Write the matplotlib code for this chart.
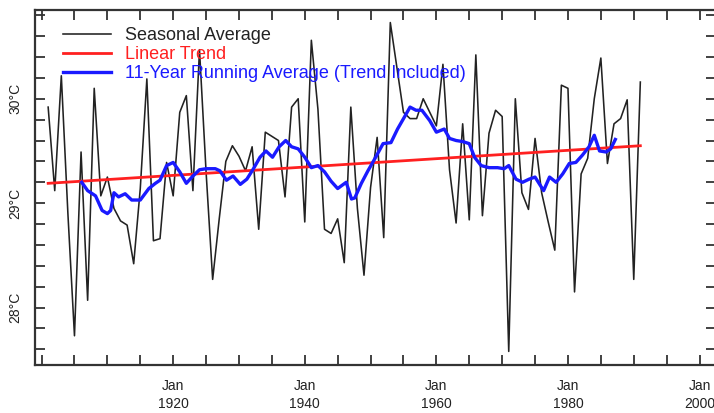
import matplotlib
matplotlib.use("Agg")
import matplotlib.pyplot as plt
from matplotlib.ticker import MultipleLocator, FixedLocator

plt.rcParams['font.family'] = ['Liberation Sans', 'DejaVu Sans']

# seasonal average, one value per year
years = list(range(1901, 1992))
seasonal = [29.92, 29.12, 30.22, 28.90, 27.73, 29.49, 28.07, 30.10, 29.07, 29.25,
            28.95, 28.83, 28.79, 28.42, 29.14, 30.19, 28.64, 28.66, 29.39, 29.07,
            29.87, 30.03, 29.12, 30.47, 29.30, 28.27, 28.85, 29.40, 29.55, 29.45,
            29.31, 29.54, 28.75, 29.68, 29.64, 29.60, 29.06, 29.92, 30.00, 28.82,
            30.56, 29.90, 28.75, 28.71, 28.85, 28.43, 29.92, 28.95, 28.31, 29.15,
            29.63, 28.67, 30.73, 30.30, 29.87, 29.81, 29.81, 30.00, 29.87, 29.74,
            30.33, 29.32, 28.81, 29.76, 28.84, 30.42, 28.88, 29.67, 29.89, 29.83,
            27.58, 30.00, 29.10, 28.94, 29.62, 29.10, 28.82, 28.55, 30.13, 30.10,
            28.15, 29.28, 29.43, 30.00, 30.39, 29.38, 29.76, 29.81, 29.99, 28.27,
            30.16]

# linear trend end points
trend_years = [1901, 1991]
trend_vals = [29.19, 29.55]

# 11-year running average (trend included)
run_years = [1906.1, 1907.0, 1908.2, 1909.2, 1910.0, 1910.5, 1911.0, 1911.7, 1912.7, 1913.7,
             1915.0, 1916.3, 1917.3, 1918.0, 1919.0, 1920.0, 1921.0, 1922.0, 1923.0, 1924.0,
             1925.0, 1926.4, 1927.1, 1928.1, 1929.1, 1930.2, 1931.2, 1932.2, 1933.2, 1934.1,
             1935.1, 1936.1, 1937.1, 1938.0, 1939.0, 1940.0, 1941.0, 1942.0, 1943.0, 1944.0,
             1945.0, 1946.3, 1947.1, 1947.6, 1948.6, 1949.6, 1950.6, 1951.9, 1953.1, 1954.1,
             1955.1, 1956.0, 1956.9, 1957.8, 1959.0, 1960.0, 1961.2, 1962.0, 1963.0, 1964.0,
             1965.0, 1965.8, 1966.8, 1968.0, 1969.3, 1970.3, 1971.0, 1972.1, 1973.1, 1974.1,
             1975.0, 1976.3, 1977.2, 1978.2, 1979.2, 1980.2, 1981.2, 1982.2, 1983.2, 1984.0,
             1984.8, 1985.8, 1986.5, 1987.2]
run_vals = [29.20, 29.12, 29.07, 28.93, 28.90, 28.93, 29.10, 29.06, 29.09, 29.03,
            29.03, 29.14, 29.19, 29.22, 29.36, 29.39, 29.30, 29.19, 29.26, 29.32,
            29.33, 29.33, 29.31, 29.22, 29.26, 29.18, 29.23, 29.33, 29.44, 29.50,
            29.44, 29.54, 29.60, 29.54, 29.52, 29.44, 29.34, 29.36, 29.30, 29.21,
            29.14, 29.20, 29.04, 29.05, 29.19, 29.31, 29.42, 29.57, 29.58, 29.71,
            29.82, 29.92, 29.89, 29.89, 29.79, 29.68, 29.71, 29.62, 29.60, 29.59,
            29.57, 29.44, 29.36, 29.34, 29.34, 29.33, 29.36, 29.23, 29.20, 29.23,
            29.25, 29.12, 29.25, 29.20, 29.28, 29.38, 29.39, 29.46, 29.54, 29.65,
            29.50, 29.49, 29.52, 29.61]

xticks = [1920, 1940, 1960, 1980, 2000]
xlabels = ["Jan\n1920", "Jan\n1940", "Jan\n1960", "Jan\n1980", "Jan\n2000"]
yticks = [28, 29, 30]
ylabels = ["28°C", "29°C", "30°C"]

fig = plt.figure(figsize=(7.14, 4.13), dpi=100)
ax = fig.add_axes([35/714, 1 - 365/413, 681/714, 355/413])

ax.plot(years, seasonal, color='#222222', lw=1.15, label='Seasonal Average')
ax.plot(trend_years, trend_vals, color='#ff2020', lw=2.0, label='Linear Trend')
ax.plot(run_years, run_vals, color='#1a1aff', lw=2.4, label='11-Year Running Average (Trend Included)')

ax.set_xlim(1899.0, 2002.5)
ax.set_ylim(27.45, 30.85)

ax.xaxis.set_major_locator(FixedLocator(xticks))
ax.set_xticklabels(xlabels)
ax.xaxis.set_minor_locator(MultipleLocator(5))
ax.yaxis.set_major_locator(FixedLocator(yticks))
ax.set_yticklabels(ylabels, rotation=90, va='center')
ax.yaxis.set_minor_locator(MultipleLocator(0.2))

for which in ('major', 'minor'):
    ax.tick_params(which=which, direction='in', length=7, width=1.3, color='#333333',
                   top=True, right=True)
ax.tick_params(axis='x', which='major', pad=10, labelsize=10, labelcolor='#222222')
ax.tick_params(axis='y', which='major', pad=9, labelsize=10, labelcolor='#222222')
for lab in ax.get_xticklabels():
    lab.set_linespacing(1.4)

for sp in ax.spines.values():
    sp.set_linewidth(1.6)
    sp.set_color('#333333')

leg = ax.legend(loc='upper left', bbox_to_anchor=(0.03, 0.972), frameon=False,
                fontsize=13, handlelength=2.7, handletextpad=0.75, labelspacing=0.12,
                borderaxespad=0)
for txt, col in zip(leg.get_texts(), ['#222222', '#ff2020', '#1a1aff']):
    txt.set_color(col)

fig.savefig('out.png', dpi=100)
